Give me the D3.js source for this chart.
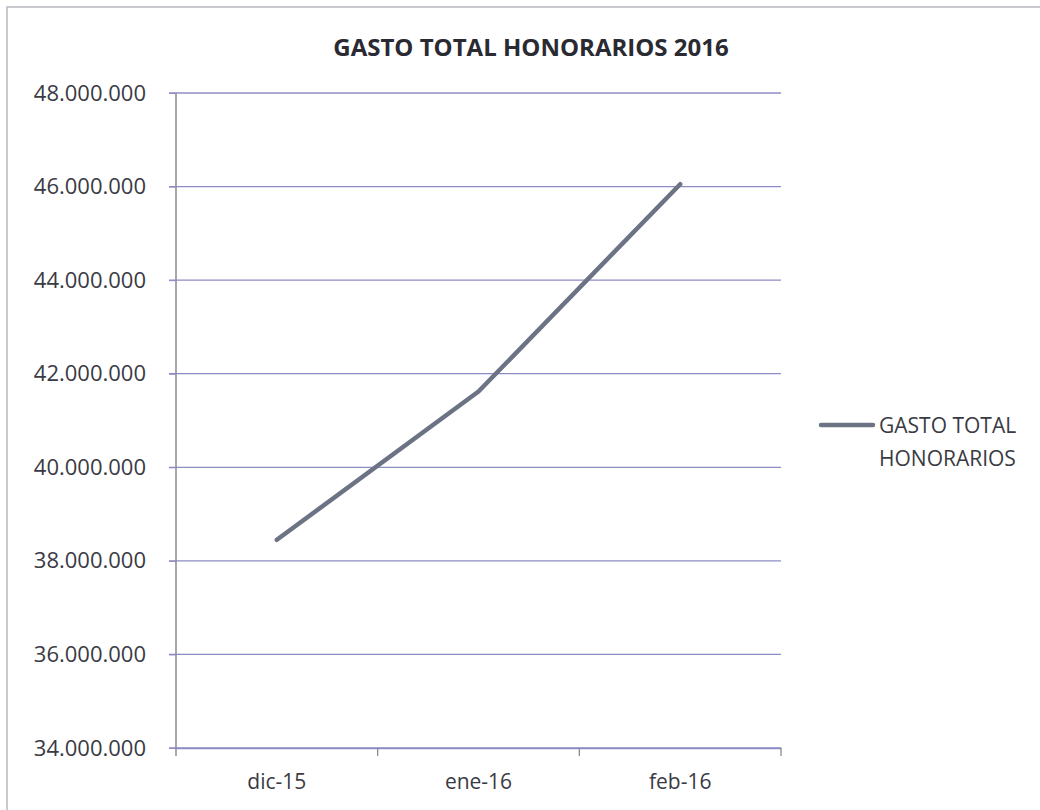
<!DOCTYPE html>
<html>
<head>
<meta charset="utf-8">
<script src="https://cdn.jsdelivr.net/npm/d3@7"></script>
<style>
  body { margin: 0; background: #fff; }
  svg text { font-family: "Open Sans", sans-serif; fill: #3a3a44; }
</style>
</head>
<body>
<svg id="chart" width="1040" height="810"></svg>
<script>
"use strict";

// data
var months = ["dic-15", "ene-16", "feb-16"];
var gastoTotal = [38450000, 41620000, 46050000];
var yTicks = [34000000, 36000000, 38000000, 40000000, 42000000, 44000000, 46000000, 48000000];
var chartTitle = "GASTO TOTAL HONORARIOS 2016";
var legendLines = ["GASTO TOTAL", "HONORARIOS"];

document.addEventListener("DOMContentLoaded", function () {
  var svg = d3.select("#chart");

  var left = 176, right = 781, top = 93, bottom = 748;

  var x = d3.scaleBand().domain(months).range([left, right]).padding(0);
  var y = d3.scaleLinear().domain([34000000, 48000000]).range([bottom, top]);

  var esLocale = d3.formatLocale({ decimal: ",", thousands: ".", grouping: [3], currency: ["", ""] });
  var fmt = esLocale.format(",.0f");

  // scan border
  svg.append("path")
    .attr("d", "M7,810 L7,7 L1040,7")
    .style("fill", "none")
    .style("stroke", "#b8b8c0")
    .style("stroke-width", 1.5);

  // title
  svg.append("text")
    .text(chartTitle)
    .attr("x", 531)
    .attr("y", 56)
    .attr("text-anchor", "middle")
    .style("font-size", "24px")
    .style("font-weight", "bold")
    .style("fill", "#2a2a33");

  // gridlines
  svg.append("g").selectAll("line.grid")
    .data(yTicks)
    .enter().append("line")
    .attr("class", "grid")
    .attr("x1", left - 7)
    .attr("x2", right)
    .attr("y1", function (d) { return y(d); })
    .attr("y2", function (d) { return y(d); })
    .style("stroke", "#8c8cc4")
    .style("stroke-width", 1.3);

  // y axis
  var yAxis = d3.axisLeft(y).tickValues(yTicks).tickFormat(fmt).tickSize(7).tickPadding(23);
  var gy = svg.append("g").attr("transform", "translate(" + left + ",0)").call(yAxis);
  gy.select(".domain").style("stroke", "#8a8a96").style("stroke-width", 1.5)
    .attr("d", "M0," + top + "V" + (bottom + 8));
  gy.selectAll(".tick line").style("stroke", "#8c8cc4");
  gy.selectAll(".tick text")
    .style("font-size", "22px")
    .style("fill", "#3a3a44")
    .style("font-family", "'Open Sans', sans-serif");

  // x axis
  var xAxis = d3.axisBottom(x).tickSize(0).tickPadding(26);
  var gx = svg.append("g").attr("transform", "translate(0," + bottom + ")").call(xAxis);
  gx.select(".domain").style("stroke", "#8c8cc4").style("stroke-width", 1.3);
  gx.selectAll(".tick text")
    .style("font-size", "21px")
    .style("fill", "#3a3a44")
    .style("font-family", "'Open Sans', sans-serif");
  // category boundary ticks
  var boundaries = months.map(function (m) { return x(m) + x.bandwidth(); });
  svg.append("g").selectAll("line.xtick")
    .data(boundaries)
    .enter().append("line")
    .attr("class", "xtick")
    .attr("x1", function (d) { return d; })
    .attr("x2", function (d) { return d; })
    .attr("y1", bottom)
    .attr("y2", bottom + 8)
    .style("stroke", "#8a8a96")
    .style("stroke-width", 1.3);

  // series line
  var line = d3.line()
    .x(function (d, i) { return x(months[i]) + x.bandwidth() / 2; })
    .y(function (d) { return y(d); });
  svg.append("path")
    .datum(gastoTotal)
    .attr("d", line)
    .style("fill", "none")
    .style("stroke", "#6c7384")
    .style("stroke-width", 4.5)
    .style("stroke-linecap", "round")
    .style("stroke-linejoin", "round");

  // legend
  var legend = svg.append("g");
  legend.append("line")
    .attr("x1", 821).attr("x2", 873)
    .attr("y1", 425).attr("y2", 425)
    .style("stroke", "#6c7384")
    .style("stroke-width", 4.5)
    .style("stroke-linecap", "round");
  legend.selectAll("text")
    .data(legendLines)
    .enter().append("text")
    .text(function (d) { return d; })
    .attr("x", 879)
    .attr("y", function (d, i) { return 433 + i * 33; })
    .style("font-size", "21px");
});
</script>
</body>
</html>
